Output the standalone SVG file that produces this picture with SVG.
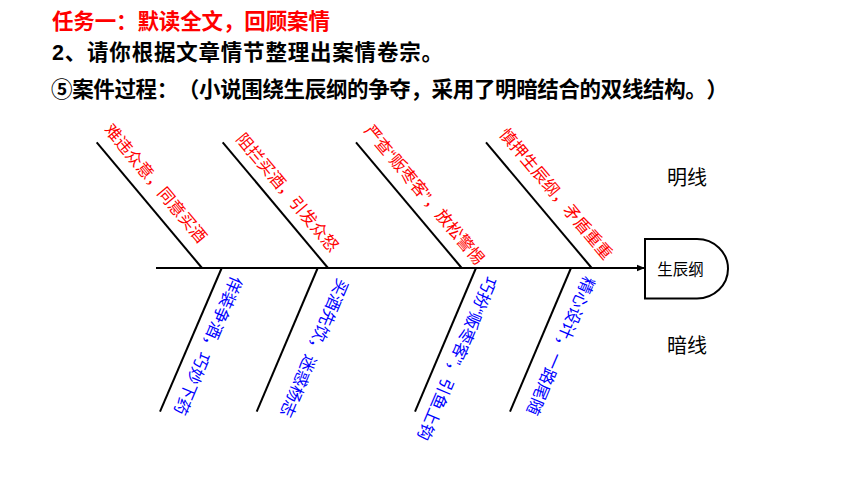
<svg xmlns="http://www.w3.org/2000/svg" width="860" height="484" viewBox="0 0 860 484">
<style>
text{font-family:"Liberation Sans","Noto Sans CJK SC",sans-serif;text-spacing-trim:space-all}
.t{font-size:21.5px;font-weight:bold}
.up{font-size:16.5px;fill:#FF0000}
.lo{font-size:16.5px;fill:#0000FF}
.bone{stroke:#000;stroke-width:2;fill:none}
.lbl{font-size:20px;fill:#000}
</style>
<defs>
<marker id="ah" markerWidth="8" markerHeight="8" refX="8" refY="4" orient="auto" markerUnits="userSpaceOnUse">
<path d="M0,0.8 L8,4 L0,7.2 Z" fill="#000"/>
</marker>
</defs>
<rect width="860" height="484" fill="#fff"/>
<g id="titles">
<text class="t" x="52" y="28.5" fill="#FF0000" textLength="278" lengthAdjust="spacing">任务一：默读全文，回顾案情</text>
<text class="t" x="52" y="59.5" fill="#000" textLength="391" lengthAdjust="spacing">2、请你根据文章情节整理出案情卷宗。</text>
<text class="t" x="51" y="97" fill="#000" textLength="677" lengthAdjust="spacing">⑤案件过程：（小说围绕生辰纲的争夺，采用了明暗结合的双线结构。）</text>
</g>
<g id="connectors">
<line class="bone" x1="156" y1="268" x2="645" y2="268" marker-end="url(#ah)"/>
<line class="bone" x1="96.7" y1="142.3" x2="202" y2="268"/>
<line class="bone" x1="222.7" y1="142.3" x2="328" y2="268"/>
<line class="bone" x1="356" y1="142.3" x2="461.7" y2="268"/>
<line class="bone" x1="486" y1="142.3" x2="591.7" y2="268"/>
<line class="bone" x1="221.7" y1="268" x2="160" y2="411.7"/>
<line class="bone" x1="317.7" y1="268" x2="256.7" y2="411.7"/>
<line class="bone" x1="476" y1="268" x2="415" y2="411.7"/>
<line class="bone" x1="571" y1="268" x2="510" y2="411.7"/>
</g>
<g id="labels-top">
<text class="up" transform="translate(103.4,130.1) rotate(50)">难违众意，同意买酒</text>
<text class="up" transform="translate(235.2,139.3) rotate(50)">阻拦买酒，引发众怒</text>
<text class="up" transform="translate(363.5,131.1) rotate(50)">严查“贩枣客”，放松警惕</text>
<text class="up" transform="translate(498.6,134.4) rotate(50)">慎押生辰纲，矛盾重重</text>
</g>
<g id="labels-bottom">
<text class="lo" transform="translate(231.7,274.9) rotate(113)">佯装争酒，巧妙下药</text>
<text class="lo" transform="translate(337.9,277.6) rotate(113)">买酒先饮，迷惑杨志</text>
<text class="lo" transform="translate(485.9,275.3) rotate(113)">巧扮“贩枣客”，引鱼上钩</text>
<text class="lo" transform="translate(584.3,275.3) rotate(113)">精心设计，一路尾随</text>
</g>
<g id="node-shengchengang">
<path d="M645,239 H697 A31,29.7 0 0 1 697,298.4 H645 Z" fill="#fff" stroke="#000" stroke-width="2"/>
<text x="680.5" y="275" font-size="15.5" text-anchor="middle" fill="#000">生辰纲</text>
</g>
<g id="label-mingxian">
<text class="lbl" x="687" y="185" text-anchor="middle">明线</text>
</g>
<g id="label-anxian">
<text class="lbl" x="687" y="353" text-anchor="middle">暗线</text>
</g>
</svg>
